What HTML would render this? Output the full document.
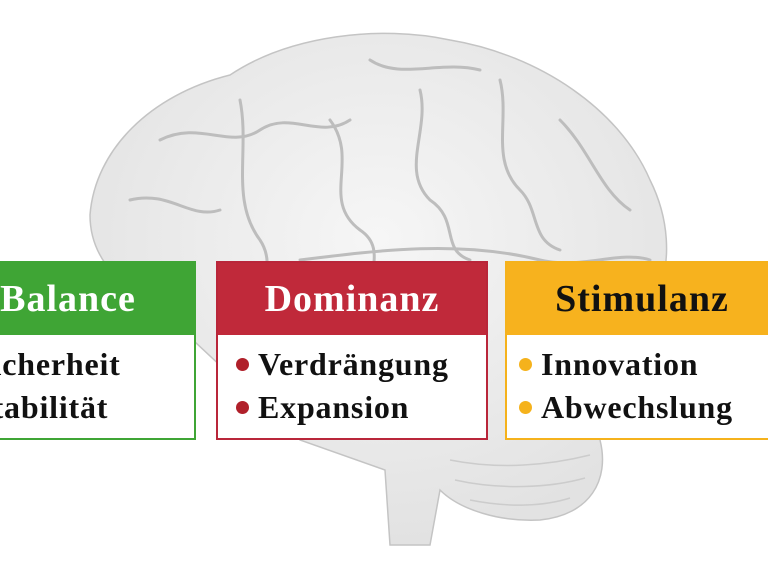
<!DOCTYPE html>
<html><head><meta charset="utf-8"><style>
body{margin:0;width:768px;height:576px;background:#fff;overflow:hidden;position:relative;font-family:"Liberation Serif",serif;}
.box{position:absolute;top:261px;height:179px;box-sizing:border-box;border:2px solid;background:#fff;}
.hd{height:72px;display:flex;align-items:center;justify-content:center;font-size:38px;font-weight:bold;letter-spacing:1px;white-space:nowrap}
.bd{font-size:32px;font-weight:bold;color:#111;padding-left:22px;line-height:43px;padding-top:8px;letter-spacing:0.8px;white-space:nowrap}
.dot{display:inline-block;width:13px;height:13px;border-radius:50%;margin-right:9px;vertical-align:middle;position:relative;top:-3px}
svg{position:absolute;left:0;top:0}
</style></head><body>
<svg width="768" height="576">
<defs><radialGradient id="g" cx="0.5" cy="0.4" r="0.6"><stop offset="0" stop-color="#f6f6f6"/><stop offset="1" stop-color="#e2e2e2"/></radialGradient></defs>
<path d="M90 215 C95 150 150 95 230 75 C290 35 380 25 450 40 C540 55 620 110 650 180 C670 220 670 260 660 290 L600 440 C610 480 590 515 540 520 C500 522 460 510 440 490 L430 545 L390 545 L385 470 L300 440 L150 300 C110 280 90 250 90 215Z" fill="url(#g)" stroke="#c4c4c4" stroke-width="1.5"/>
<g fill="none" stroke="#bdbdbd" stroke-width="3" stroke-linecap="round">
<path d="M160 140 C200 120 230 150 260 130 C290 110 320 140 350 120"/>
<path d="M240 100 C250 150 230 200 260 240 C280 270 250 300 270 330"/>
<path d="M330 120 C360 160 320 200 360 230 C390 250 360 280 380 300"/>
<path d="M420 90 C430 130 400 170 430 200 C460 220 440 250 470 260"/>
<path d="M500 80 C510 120 490 160 520 190 C540 210 530 240 560 250"/>
<path d="M560 120 C590 150 600 190 630 210"/>
<path d="M300 260 C380 250 460 240 540 260 C580 270 620 250 650 260"/>
<path d="M130 200 C170 190 190 220 220 210"/>
<path d="M370 60 C400 80 440 60 480 70"/>
</g>
<g fill="none" stroke="#ccc" stroke-width="1.5">
<path d="M450 460 C500 470 550 465 590 455"/><path d="M455 480 C500 490 550 488 585 478"/><path d="M470 500 C510 508 545 506 570 498"/>
</g>
</svg>
<div class="box" style="left:-20px;width:216px;border-color:#3fa535">
<div class="hd" style="background:#3fa535;color:#fff;padding-right:40px">Balance</div>
<div class="bd" style="padding-left:0;margin-left:-8px">Sicherheit<br>Stabilität</div></div>
<div class="box" style="left:216px;width:272px;border-color:#b9263a">
<div class="hd" style="background:#c0293a;color:#fff">Dominanz</div>
<div class="bd" style="padding-left:18px"><span class="dot" style="background:#b0202a"></span>Verdrängung<br><span class="dot" style="background:#b0202a"></span>Expansion</div></div>
<div class="box" style="left:505px;width:274px;border-color:#f5b21c">
<div class="hd" style="background:#f7b21e;color:#111">Stimulanz</div>
<div class="bd" style="padding-left:12px"><span class="dot" style="background:#f5b21c"></span>Innovation<br><span class="dot" style="background:#f5b21c"></span>Abwechslung</div></div>
</body></html>
